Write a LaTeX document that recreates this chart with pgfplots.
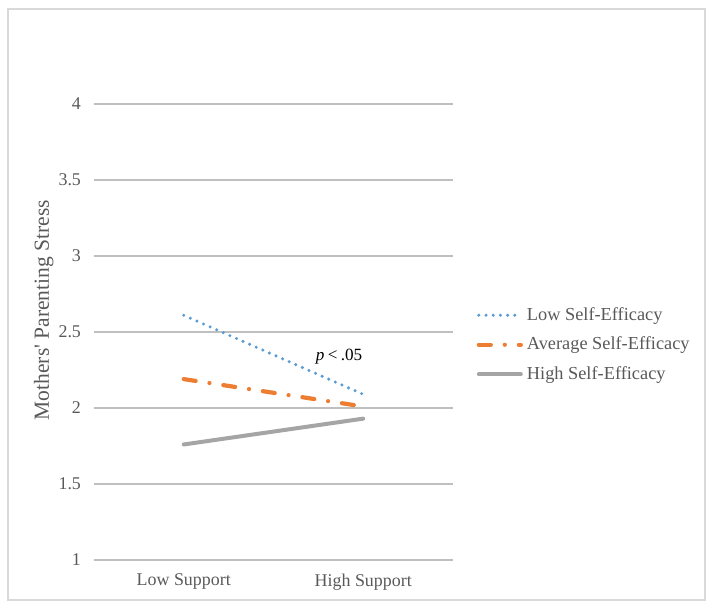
\documentclass[border=0pt]{standalone}
\usepackage{pgfplots}
\pgfplotsset{compat=1.18}
\usepackage{fontspec}
\setmainfont{Liberation Serif}
\definecolor{cblue}{HTML}{5B9BD5}
\definecolor{corange}{HTML}{ED7D31}
\definecolor{cgray}{HTML}{A5A5A5}
\definecolor{grid}{HTML}{D9D9D9}
\definecolor{txt}{HTML}{595959}
\begin{document}
\begin{tikzpicture}
\useasboundingbox (-47bp,-25.5bp) rectangle (310bp,280bp);
\draw[grid, line width=0.6bp] (-43bp,-20bp) rectangle (305.5bp,275.5bp);
\begin{axis}[
  at={(0,0)}, anchor=south west,
  scale only axis, width=179.5bp, height=228bp,
  xmin=-0.5, xmax=1.5, ymin=1, ymax=4,
  xtick={0,1}, xticklabels={Low Support, High Support},
  ytick={1,1.5,...,4},
  axis line style={draw=none},
  tick style={draw=none},
  major tick length=0pt,
  xmajorgrids=false,
  ymajorgrids=true, grid style={grid, line width=0.55bp},
  font=\fontsize{9}{11}\selectfont,
  tick label style={text=txt, font=\fontsize{9}{11}\selectfont},
  /pgf/number format/assume math mode=true,
  yticklabel style={xshift=-3bp},
  xticklabel style={yshift=-3.5bp},
  ylabel={Mothers\textquotesingle\ Parenting Stress},
  ylabel style={text=txt, font=\fontsize{10.8}{13}\selectfont, at={(axis description cs:-0.14,0.548)}, anchor=center, rotate=0},
  legend style={draw=none, fill=none, at={(axis description cs:1.065,0.472)}, anchor=west,
    font=\fontsize{9.2}{11}\selectfont, text=txt, row sep=2.85bp, inner sep=0pt,
    /tikz/every odd column/.style={inner xsep=0pt},
    /tikz/every even column/.style={inner xsep=1.5bp}},
  legend cell align=left,
  legend image code/.code={\draw[#1] (0bp,0bp) -- (21bp,0bp);},
  clip=false,
]
\addplot[cblue, line width=1.7bp, line cap=round, dash pattern=on 0bp off 3.6bp] coordinates {(0,2.61) (1,2.09)};
\addlegendentry{Low Self-Efficacy}
\addplot[corange, line width=2.1bp, line cap=round, dash pattern=on 6bp off 7bp on 0bp off 7bp] coordinates {(0,2.19) (1,2.01)};
\addlegendentry{Average Self-Efficacy}
\addplot[cgray, line width=2bp, line cap=round] coordinates {(0,1.76) (1,1.93)};
\addlegendentry{High Self-Efficacy}
\node[font=\fontsize{8.6}{11}\selectfont, anchor=center] at (axis cs:0.865,2.335) {\textit{p}\hspace{0.2em}<\hspace{0.2em}.05};
\end{axis}
\end{tikzpicture}
\end{document}
